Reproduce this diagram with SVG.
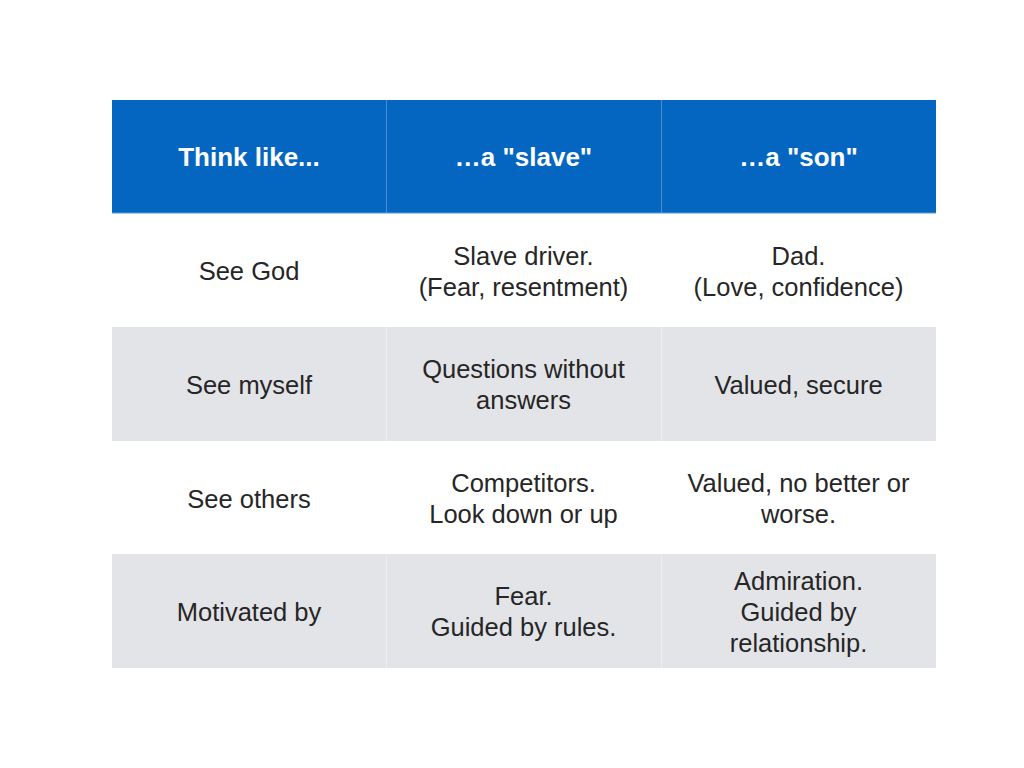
<svg xmlns="http://www.w3.org/2000/svg" width="1024" height="768" viewBox="0 0 1024 768">
<style>
.hd{fill:#0466C1}
.g{fill:#E3E4E8}
.w{fill:#FFFFFF}
.ht{font-family:"Liberation Sans",Arial,sans-serif;font-size:26px;font-weight:bold;fill:#FFFFFF;text-anchor:middle}
.t{font-family:"Liberation Sans",Arial,sans-serif;font-size:25.5px;fill:#262626;text-anchor:middle}
.hs{stroke:#4F8CCB;stroke-width:1}
.gs{stroke:#EDEEF1;stroke-width:1}
</style>
<rect width="1024" height="768" fill="#FFFFFF"/>
<g id="header">
<rect class="hd" x="112" y="100" width="824" height="113"/>
<line class="hs" x1="386.5" y1="100" x2="386.5" y2="213"/>
<line class="hs" x1="661.5" y1="100" x2="661.5" y2="213"/>
<line x1="112" y1="213" x2="936" y2="213" stroke="#5A96D6" stroke-width="1"/>
<text class="ht" x="249" y="166">Think like...</text>
<text class="ht" x="523.5" y="166">…a "slave"</text>
<text class="ht" x="798.5" y="166">…a "son"</text>
</g>
<g id="row-see-god">
<rect class="w" x="112" y="214" width="824" height="113"/>
<text class="t" x="249" y="280">See God</text>
<text class="t" x="523.5" y="265">Slave driver.</text>
<text class="t" x="523.5" y="296">(Fear, resentment)</text>
<text class="t" x="798.5" y="265">Dad.</text>
<text class="t" x="798.5" y="296">(Love, confidence)</text>
</g>
<g id="row-see-myself">
<rect class="g" x="112" y="327" width="824" height="114"/>
<line class="gs" x1="386.5" y1="327" x2="386.5" y2="441"/>
<line class="gs" x1="661.5" y1="327" x2="661.5" y2="441"/>
<text class="t" x="249" y="394">See myself</text>
<text class="t" x="523.5" y="378">Questions without</text>
<text class="t" x="523.5" y="409">answers</text>
<text class="t" x="798.5" y="394">Valued, secure</text>
</g>
<g id="row-see-others">
<rect class="w" x="112" y="441" width="824" height="113"/>
<text class="t" x="249" y="508">See others</text>
<text class="t" x="523.5" y="492">Competitors.</text>
<text class="t" x="523.5" y="523">Look down or up</text>
<text class="t" x="798.5" y="492">Valued, no better or</text>
<text class="t" x="798.5" y="523">worse.</text>
</g>
<g id="row-motivated-by">
<rect class="g" x="112" y="554" width="824" height="114"/>
<line class="gs" x1="386.5" y1="554" x2="386.5" y2="668"/>
<line class="gs" x1="661.5" y1="554" x2="661.5" y2="668"/>
<text class="t" x="249" y="621">Motivated by</text>
<text class="t" x="523.5" y="605">Fear.</text>
<text class="t" x="523.5" y="636">Guided by rules.</text>
<text class="t" x="798.5" y="590">Admiration.</text>
<text class="t" x="798.5" y="621">Guided by</text>
<text class="t" x="798.5" y="652">relationship.</text>
</g>
</svg>
